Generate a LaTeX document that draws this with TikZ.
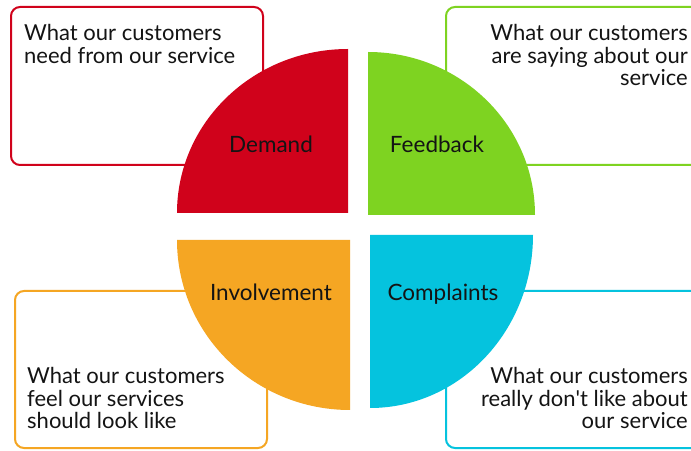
\documentclass[tikz,border=0pt]{standalone}
\usepackage{fontspec}
\setmainfont{Lato}
\definecolor{cred}{RGB}{208,2,27}
\definecolor{cgreen}{RGB}{126,211,33}
\definecolor{corange}{RGB}{245,166,35}
\definecolor{cblue}{RGB}{5,195,222}
\definecolor{ctext}{RGB}{20,20,20}
\tikzset{
  infobox/.style={line width=2pt, rounded corners=9pt, fill=white},
  boxtext/.style={inner sep=0pt, text=ctext, font=\fontsize{22}{22.7}\selectfont},
  seglabel/.style={inner sep=0pt, text=ctext, font=\fontsize{22.5}{23}\selectfont, anchor=base}
}
\begin{document}
\begin{tikzpicture}[x=1pt,y=1pt]
\useasboundingbox (0,0) rectangle (691,450);
\clip (0,0) rectangle (691,450);
\fill[white] (0,0) rectangle (691,450);
% boxes
\draw[infobox, draw=cred] (11,285) rectangle (263,443);
\draw[infobox, draw=cgreen] (446,285) rectangle (720,443);
\draw[infobox, draw=corange] (15,2) rectangle (267,159);
\draw[infobox, draw=cblue] (446,2) rectangle (720,159);
% quadrants
\fill[cred] (348,237) -- (348,401) arc[start angle=90, end angle=180, x radius=171, y radius=164] -- cycle;
\fill[cgreen] (368,235) -- (535,235) arc[start angle=0, end angle=90, x radius=167, y radius=163] -- cycle;
\fill[corange] (350,210) -- (177,210) arc[start angle=180, end angle=270, x radius=173, y radius=170] -- cycle;
\fill[cblue] (370,215) -- (370,42) arc[start angle=270, end angle=360, x radius=163, y radius=173] -- cycle;
% labels
\node[seglabel] (demand) at (271,297) {Demand};
\node[seglabel] (feedback) at (437,297) {Feedback};
\node[seglabel] (involvement) at (271,149) {Involvement};
\node[seglabel] (complaints) at (443,149) {Complaints};
% texts
\node[boxtext, anchor=north west, align=left] (t1) at (24,426) {What our customers\\need from our service};
\node[boxtext, anchor=north east, align=right] (t2) at (688,426) {What our customers\\are saying about our\\service};
\node[boxtext, anchor=north west, align=left] (t3) at (27,83) {What our customers\\feel our services\\should look like};
\node[boxtext, anchor=north east, align=right] (t4) at (688,83) {What our customers\\really don\textquotesingle t like about\\our service};
\end{tikzpicture}
\end{document}
